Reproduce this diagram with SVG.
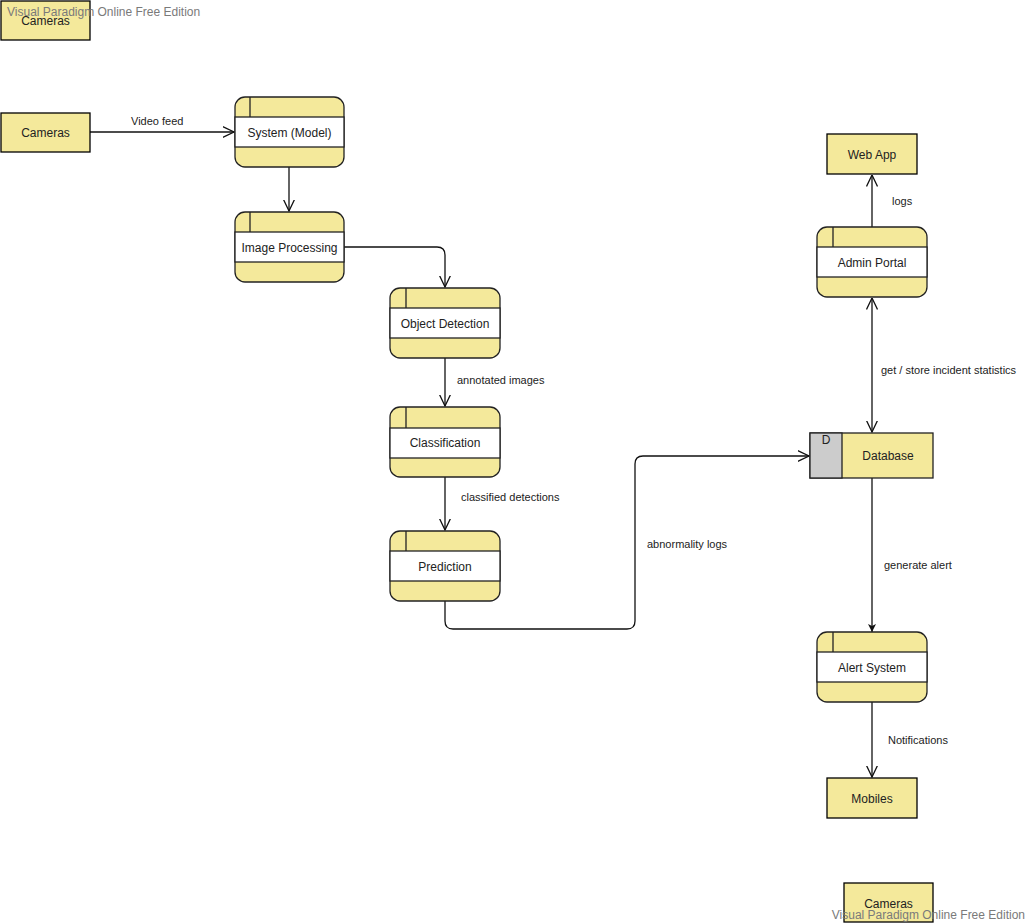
<svg xmlns="http://www.w3.org/2000/svg" width="1031" height="924" viewBox="0 0 1031 924">
  <style>
    text { font-family: "Liberation Sans", Arial, sans-serif; fill: #222; }
    .node { font-size: 12px; text-anchor: middle; }
    .lbl { font-size: 11px; }
    .ext { fill: #f4e99b; stroke: #000; stroke-width: 1.3; }
    .proc { fill: #f4e99b; stroke: #222; stroke-width: 1.3; }
    .band { fill: #fff; stroke: #222; stroke-width: 1.3; }
    .div { stroke: #222; stroke-width: 1.3; }
    .wire { fill: none; stroke: #111; stroke-width: 1.3; }
    .wm { font-size: 12px; fill: #7a7a7a; }
  </style>
  <defs>
    <marker id="open" viewBox="0 0 12 12" refX="11.5" refY="6" markerWidth="12" markerHeight="12" markerUnits="userSpaceOnUse" orient="auto-start-reverse">
      <path d="M0,0.5 L11.5,6 L0,11.5" fill="none" stroke="#111" stroke-width="1.3"/>
    </marker>
    <marker id="solid" viewBox="0 0 8 8" refX="8" refY="4" markerWidth="8" markerHeight="8" markerUnits="userSpaceOnUse" orient="auto">
      <path d="M0,0 L8,4 L0,8 L2,4 Z" fill="#111"/>
    </marker>
  </defs>

  <!-- connectors -->
  <g id="connectors">
    <path class="wire" d="M90,132 H234" marker-end="url(#open)"/>
    <path class="wire" d="M289,167 V211" marker-end="url(#open)"/>
    <path class="wire" d="M344,247 H437 Q445,247 445,255 V287" marker-end="url(#open)"/>
    <path class="wire" d="M445,358 V406" marker-end="url(#open)"/>
    <path class="wire" d="M445,477 V530" marker-end="url(#open)"/>
    <path class="wire" d="M445,601 V621 Q445,629 453,629 H627 Q635,629 635,621 V464 Q635,456 643,456 H809" marker-end="url(#open)"/>
    <path class="wire" d="M872,227 V175" marker-end="url(#open)"/>
    <path class="wire" d="M872,298 V432" marker-start="url(#open)" marker-end="url(#open)"/>
    <path class="wire" d="M872,478 V632" marker-end="url(#solid)"/>
    <path class="wire" d="M872,702 V777" marker-end="url(#open)"/>
    <text class="lbl" x="131" y="125">Video feed</text>
    <text class="lbl" x="457" y="384">annotated images</text>
    <text class="lbl" x="461" y="501">classified detections</text>
    <text class="lbl" x="647" y="548">abnormality logs</text>
    <text class="lbl" x="892" y="205">logs</text>
    <text class="lbl" x="881" y="374">get / store incident statistics</text>
    <text class="lbl" x="884" y="569">generate alert</text>
    <text class="lbl" x="888" y="744">Notifications</text>
  </g>

  <!-- external entities -->
  <g id="cameras-top">
    <rect class="ext" x="1" y="1" width="89" height="39"/>
    <text class="node" x="45.5" y="25">Cameras</text>
  </g>
  <g id="cameras">
    <rect class="ext" x="1" y="113" width="89" height="39"/>
    <text class="node" x="45.5" y="137">Cameras</text>
  </g>
  <g id="web-app">
    <rect class="ext" x="827" y="134" width="90" height="40"/>
    <text class="node" x="872" y="159">Web App</text>
  </g>
  <g id="mobiles">
    <rect class="ext" x="827" y="778" width="90" height="40"/>
    <text class="node" x="872" y="803">Mobiles</text>
  </g>
  <g id="cameras-bottom">
    <rect class="ext" x="844" y="883" width="89" height="39"/>
    <text class="node" x="888.5" y="908">Cameras</text>
  </g>

  <!-- processes -->
  <g id="system-model">
    <rect class="proc" x="235" y="97" width="109" height="70" rx="10"/>
    <rect class="band" x="235" y="117" width="109" height="30"/>
    <line class="div" x1="250" y1="97" x2="250" y2="117"/>
    <text class="node" x="289.5" y="137">System (Model)</text>
  </g>
  <g id="image-processing">
    <rect class="proc" x="235" y="212" width="109" height="70" rx="10"/>
    <rect class="band" x="235" y="232" width="109" height="30"/>
    <line class="div" x1="250" y1="212" x2="250" y2="232"/>
    <text class="node" x="289.5" y="252">Image Processing</text>
  </g>
  <g id="object-detection">
    <rect class="proc" x="390" y="288" width="110" height="70" rx="10"/>
    <rect class="band" x="390" y="308" width="110" height="30"/>
    <line class="div" x1="406" y1="288" x2="406" y2="308"/>
    <text class="node" x="445" y="328">Object Detection</text>
  </g>
  <g id="classification">
    <rect class="proc" x="390" y="407" width="110" height="70" rx="10"/>
    <rect class="band" x="390" y="428" width="110" height="30"/>
    <line class="div" x1="406" y1="407" x2="406" y2="428"/>
    <text class="node" x="445" y="447">Classification</text>
  </g>
  <g id="prediction">
    <rect class="proc" x="390" y="531" width="110" height="70" rx="10"/>
    <rect class="band" x="390" y="551" width="110" height="30"/>
    <line class="div" x1="406" y1="531" x2="406" y2="551"/>
    <text class="node" x="445" y="571">Prediction</text>
  </g>
  <g id="admin-portal">
    <rect class="proc" x="817" y="227" width="110" height="70" rx="10"/>
    <rect class="band" x="817" y="247" width="110" height="30"/>
    <line class="div" x1="833" y1="227" x2="833" y2="247"/>
    <text class="node" x="872" y="267">Admin Portal</text>
  </g>
  <g id="alert-system">
    <rect class="proc" x="817" y="632" width="110" height="70" rx="10"/>
    <rect class="band" x="817" y="652" width="110" height="30"/>
    <line class="div" x1="833" y1="632" x2="833" y2="652"/>
    <text class="node" x="872" y="672">Alert System</text>
  </g>

  <!-- data store -->
  <g id="database">
    <rect x="810" y="433" width="123" height="45" fill="#f4e99b" stroke="#222" stroke-width="1.3"/>
    <rect x="810" y="433" width="32" height="45" fill="#cccccc" stroke="#222" stroke-width="1.3"/>
    <text class="node" x="826" y="444">D</text>
    <text class="node" x="888" y="460">Database</text>
  </g>

  <!-- edition stamp -->
  <text class="wm" x="7" y="16">Visual Paradigm Online Free Edition</text>
  <text class="wm" x="1025" y="919" text-anchor="end">Visual Paradigm Online Free Edition</text>
</svg>
